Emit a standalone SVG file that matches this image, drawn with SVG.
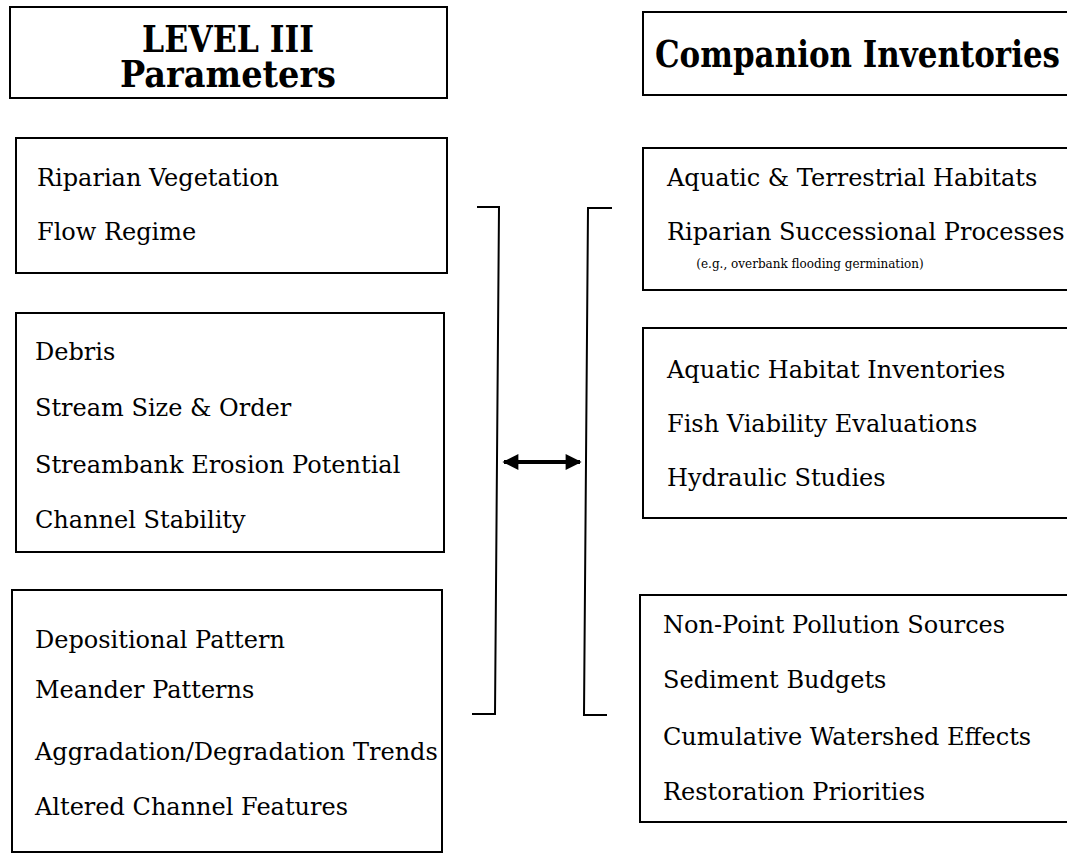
<svg xmlns="http://www.w3.org/2000/svg" width="1067" height="863" viewBox="0 0 1067 863">
  <style>
    .box { fill: #fff; stroke: #000; stroke-width: 2; }
    .title { font-family: "DejaVu Serif", "Liberation Serif", serif; font-weight: bold; font-size: 37px; fill: #000; }
    .item { font-family: "DejaVu Serif", "Liberation Serif", serif; font-size: 24px; fill: #000; }
    .note { font-family: "DejaVu Serif", "Liberation Serif", serif; font-size: 12px; fill: #000; }
    .bracket { fill: none; stroke: #000; stroke-width: 2; }
  </style>
  <defs>
    <marker id="head" viewBox="0 0 10 10" refX="9" refY="5" markerWidth="6" markerHeight="4" orient="auto-start-reverse" markerUnits="strokeWidth">
      <path d="M0,0 L10,5 L0,10 Z" fill="#000"/>
    </marker>
  </defs>
  <rect width="1067" height="863" fill="#fff"/>

  <!-- Left column -->
  <g id="level3-title">
    <rect class="box" x="10" y="7" width="437" height="91"/>
    <text class="title" x="228" y="52" text-anchor="middle" textLength="172" lengthAdjust="spacingAndGlyphs">LEVEL III</text>
    <text class="title" x="228" y="87" text-anchor="middle" textLength="216" lengthAdjust="spacingAndGlyphs">Parameters</text>
  </g>
  <g id="level3-group1">
    <rect class="box" x="16" y="138" width="431" height="135"/>
    <text class="item" x="37" y="186">Riparian Vegetation</text>
    <text class="item" x="37" y="240">Flow Regime</text>
  </g>
  <g id="level3-group2">
    <rect class="box" x="16" y="313" width="428" height="239"/>
    <text class="item" x="35" y="360">Debris</text>
    <text class="item" x="35" y="416">Stream Size &amp; Order</text>
    <text class="item" x="35" y="473">Streambank Erosion Potential</text>
    <text class="item" x="35" y="528">Channel Stability</text>
  </g>
  <g id="level3-group3">
    <rect class="box" x="12" y="590" width="430" height="262"/>
    <text class="item" x="35" y="648">Depositional Pattern</text>
    <text class="item" x="35" y="698">Meander Patterns</text>
    <text class="item" x="35" y="760">Aggradation/Degradation Trends</text>
    <text class="item" x="35" y="815">Altered Channel Features</text>
  </g>

  <!-- Right column -->
  <g id="companion-title">
    <rect class="box" x="643" y="12" width="440" height="83"/>
    <text class="title" x="655" y="67" textLength="405" lengthAdjust="spacingAndGlyphs">Companion Inventories</text>
  </g>
  <g id="companion-group1">
    <rect class="box" x="643" y="148" width="440" height="142"/>
    <text class="item" x="667" y="186">Aquatic &amp; Terrestrial Habitats</text>
    <text class="item" x="667" y="240">Riparian Successional Processes</text>
    <text class="note" x="810" y="268" text-anchor="middle">(e.g., overbank flooding germination)</text>
  </g>
  <g id="companion-group2">
    <rect class="box" x="643" y="328" width="440" height="190"/>
    <text class="item" x="667" y="378">Aquatic Habitat Inventories</text>
    <text class="item" x="667" y="432">Fish Viability Evaluations</text>
    <text class="item" x="667" y="486">Hydraulic Studies</text>
  </g>
  <g id="companion-group3">
    <rect class="box" x="640" y="595" width="443" height="227"/>
    <text class="item" x="663" y="633">Non-Point Pollution Sources</text>
    <text class="item" x="663" y="688">Sediment Budgets</text>
    <text class="item" x="663" y="745">Cumulative Watershed Effects</text>
    <text class="item" x="663" y="800">Restoration Priorities</text>
  </g>

  <!-- Brackets and the two-way link between the columns -->
  <g id="connectors">
    <path class="bracket" d="M477,207 H499 L495,714 H472"/>
    <path class="bracket" d="M612,208 H588 L584,715 H607"/>
    <line x1="504" y1="462" x2="580" y2="462" stroke="#000" stroke-width="4" marker-start="url(#head)" marker-end="url(#head)"/>
  </g>
</svg>
